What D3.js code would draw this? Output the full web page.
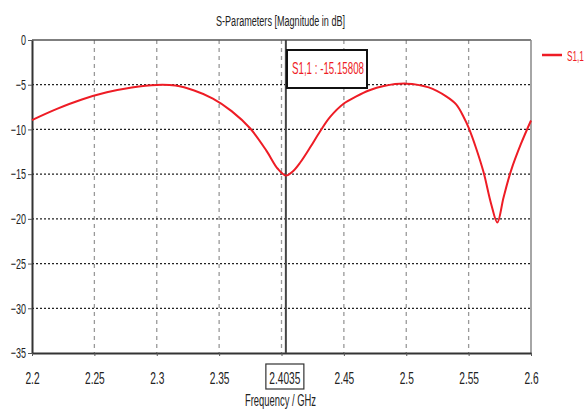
<!DOCTYPE html>
<html>
<head>
<meta charset="utf-8">
<script src="https://cdn.jsdelivr.net/npm/d3@7"></script>
<style>
  body { margin: 0; background: #fff; }
  text { font-family: "Liberation Sans", Arial, sans-serif; }
</style>
</head>
<body>
<div id="chart"></div>
<script>
// values
const freq = [2.2, 2.22, 2.24, 2.26, 2.28, 2.3, 2.315, 2.33, 2.345, 2.36, 2.375, 2.388, 2.397, 2.4035,
  2.409, 2.415, 2.423, 2.431, 2.439, 2.45, 2.46, 2.47, 2.482, 2.5, 2.518, 2.532, 2.54, 2.546, 2.55,
  2.556, 2.562, 2.568, 2.573, 2.578, 2.584, 2.592, 2.6];
const s11 = [-8.95, -7.7, -6.65, -5.85, -5.3, -5.02, -5.1, -5.65, -6.55, -7.95, -9.9, -12.4, -14.4, -15.16,
  -14.7, -13.7, -12.0, -10.2, -8.6, -7.1, -6.3, -5.65, -5.15, -4.88, -5.3, -6.3, -7.2, -8.6, -9.8,
  -12.1, -14.8, -18.3, -20.4, -17.6, -14.6, -11.6, -9.0];
const xTicks = [2.2, 2.25, 2.3, 2.35, 2.4, 2.45, 2.5, 2.55, 2.6];
const yTicks = [0, -5, -10, -15, -20, -25, -30, -35];
const markerFreq = 2.4035;
const markerValue = -15.15808;
const seriesName = "S1,1";

const width = 584, height = 410;
const margin = { top: 40, right: 53, bottom: 57, left: 32 };
const red = "#ee1c25";
const squeeze = 0.6; // the source font is very narrow

const svg = d3.select("#chart").append("svg")
  .attr("width", width)
  .attr("height", height);

const x = d3.scaleLinear().domain([2.2, 2.6]).range([margin.left, width - margin.right]);
const y = d3.scaleLinear().domain([-35, 0]).range([height - margin.bottom, margin.top]);

// title
svg.append("text")
  .attr("x", 216).attr("y", 26)
  .attr("font-size", 14)
  .attr("fill", "#222")
  .attr("textLength", 129)
  .attr("lengthAdjust", "spacingAndGlyphs")
  .text("S-Parameters [Magnitude in dB]");

// vertical grid (dashed grey)
svg.append("g").selectAll("line")
  .data(xTicks.slice(1, -1))
  .enter().append("line")
  .attr("x1", d => x(d)).attr("x2", d => x(d))
  .attr("y1", y(0)).attr("y2", y(-35))
  .attr("stroke", "#999")
  .attr("stroke-width", 1.3)
  .attr("stroke-dasharray", "4,4");

// horizontal grid (dotted dark)
svg.append("g").selectAll("line")
  .data(yTicks.slice(1, -1))
  .enter().append("line")
  .attr("x1", x(2.2)).attr("x2", x(2.6))
  .attr("y1", d => y(d)).attr("y2", d => y(d))
  .attr("stroke", "#222")
  .attr("stroke-width", 1.2)
  .attr("stroke-dasharray", "2,2");

// frame
svg.append("line")
  .attr("x1", x(2.2)).attr("x2", x(2.6)).attr("y1", y(0)).attr("y2", y(0))
  .attr("stroke", "#555").attr("stroke-width", 1.5);
svg.append("line")
  .attr("x1", x(2.6)).attr("x2", x(2.6)).attr("y1", y(0)).attr("y2", y(-35))
  .attr("stroke", "#888").attr("stroke-width", 1.5);

// axes
const yAxis = svg.append("g")
  .attr("transform", `translate(${margin.left},0)`)
  .call(d3.axisLeft(y).tickValues(yTicks).tickSize(4).tickSizeOuter(0).tickFormat(d3.format("d")));
yAxis.select(".domain").attr("stroke", "#333").attr("stroke-width", 2);
yAxis.selectAll(".tick line").attr("stroke", "#555");
yAxis.selectAll("text")
  .attr("font-size", 15).attr("fill", "#222")
  .attr("x", 0)
  .attr("transform", `translate(-6,0) scale(${squeeze},1)`);

const xAxis = svg.append("g")
  .attr("transform", `translate(0,${height - margin.bottom})`)
  .call(d3.axisBottom(x).tickValues(xTicks).tickSize(3).tickSizeOuter(0)
    .tickFormat(d => d === 2.4 ? "" : String(d)));
xAxis.select(".domain").attr("stroke", "#333").attr("stroke-width", 2);
xAxis.selectAll(".tick line").attr("stroke", "#555");
xAxis.selectAll("text")
  .attr("font-size", 17).attr("fill", "#222")
  .attr("y", 0).attr("dy", 0)
  .attr("transform", `translate(0,31) scale(${squeeze},1)`);

// marker line
const fx = x(markerFreq);
svg.append("line")
  .attr("x1", fx).attr("x2", fx)
  .attr("y1", y(0)).attr("y2", y(-35))
  .attr("stroke", "#444").attr("stroke-width", 2);

// marker frequency label box
svg.append("rect")
  .attr("x", fx - 20).attr("y", 364)
  .attr("width", 38).attr("height", 25)
  .attr("fill", "#fff").attr("stroke", "#333").attr("stroke-width", 1.2);
svg.append("text")
  .attr("text-anchor", "middle")
  .attr("font-size", 17).attr("fill", "#222")
  .attr("transform", `translate(${fx - 1},384) scale(${squeeze},1)`)
  .text(String(markerFreq));

// x axis title
svg.append("text")
  .attr("x", 245).attr("y", 406)
  .attr("font-size", 16).attr("fill", "#222")
  .attr("textLength", 71)
  .attr("lengthAdjust", "spacingAndGlyphs")
  .text("Frequency / GHz");

// curve
const line = d3.line()
  .x((d, i) => x(freq[i]))
  .y(d => y(d))
  .curve(d3.curveCatmullRom.alpha(0.5));

svg.append("path")
  .datum(s11)
  .attr("fill", "none")
  .attr("stroke", red)
  .attr("stroke-width", 2)
  .attr("d", line);

// marker readout box
svg.append("rect")
  .attr("x", 287).attr("y", 50)
  .attr("width", 80).attr("height", 38)
  .attr("fill", "#fff").attr("stroke", "#111").attr("stroke-width", 2);
svg.append("text")
  .attr("x", 292).attr("y", 74)
  .attr("font-size", 17).attr("fill", red)
  .attr("textLength", 72)
  .attr("lengthAdjust", "spacingAndGlyphs")
  .text(`${seriesName} : ${markerValue}`);

// legend
svg.append("line")
  .attr("x1", 542).attr("x2", 562).attr("y1", 55).attr("y2", 55)
  .attr("stroke", red).attr("stroke-width", 2.5);
svg.append("text")
  .attr("font-size", 15).attr("fill", red)
  .attr("transform", `translate(567,61) scale(0.55,1)`)
  .text(seriesName);
</script>
</body>
</html>
